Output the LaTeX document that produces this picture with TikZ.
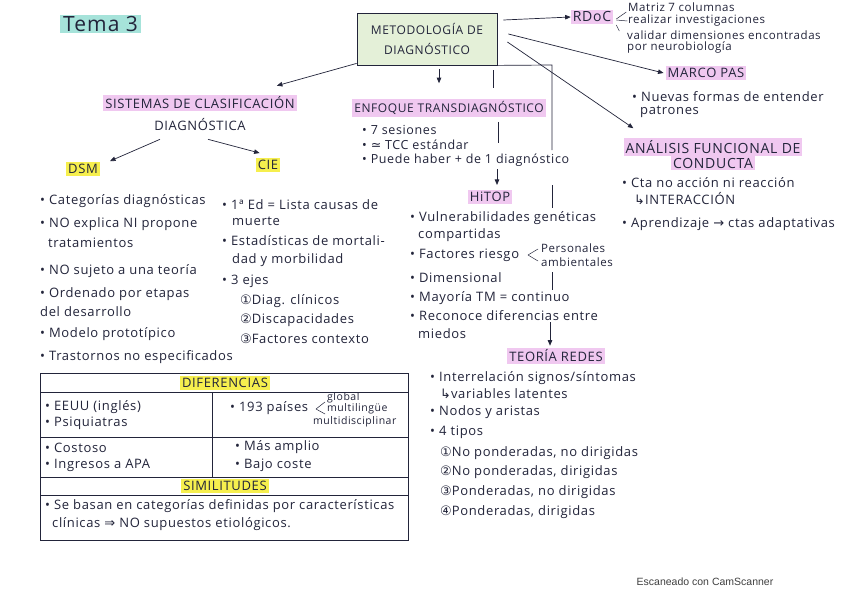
\documentclass[tikz,border=0pt]{standalone}
\usepackage{fontspec}
\setmainfont{Open Sans}[LetterSpace=5]
\newfontfamily\symfam{DejaVu Sans}
\newfontfamily\scanfam{Liberation Sans}
\newcommand{\dsy}[1]{{\symfam #1}}
\usetikzlibrary{arrows.meta}
\definecolor{ink}{HTML}{22243A}
\definecolor{pinkhl}{HTML}{F0C8F0}
\definecolor{yellowhl}{HTML}{F6EF4E}
\definecolor{tealhl}{HTML}{A6E3DA}
\definecolor{boxgreen}{HTML}{E4F0D8}
\begin{document}
\begin{tikzpicture}[x=1pt,y=-1pt,
  txt/.style={text=ink, inner sep=0pt, font=\fontsize{13}{15}\selectfont},
  item/.style={txt, anchor=west},
  smallitem/.style={txt, anchor=west, font=\fontsize{11.5}{13}\selectfont},
  tabitem/.style={txt, anchor=west, font=\fontsize{13}{15}\selectfont},
  ttl/.style={txt, font=\fontsize{13}{15}\selectfont, inner xsep=2pt, inner ysep=2pt},
  pinkttl/.style={ttl, fill=pinkhl},
  yelttl/.style={ttl, fill=yellowhl},
  arr/.style={draw=ink, line width=0.7pt, -{Triangle[length=5.5pt,width=4.5pt]}},
  ln/.style={draw=ink, line width=0.7pt},
]
\useasboundingbox (0,0) rectangle (848,599);
\fill[white] (0,0) rectangle (848,599);

% title
\node[txt, fill=tealhl, font=\fontsize{21}{24}\selectfont, anchor=west, inner xsep=3pt, inner ysep=1pt] (tema) at (60,24) {Tema 3};

% main box
\node[draw=ink, line width=0.8pt, fill=boxgreen, minimum width=140pt, minimum height=52pt,
      align=center, text=ink, font=\fontsize{12}{20}\selectfont] (meto) at (427,39) {METODOLOGÍA DE\\DIAGNÓSTICO};

% RDoC
\node[pinkttl, font=\fontsize{14}{16}\selectfont] (rdoc) at (592,17) {RDoC};
\draw[arr] ([xshift=6pt,yshift=19pt]meto.east) -- (rdoc.west);
\draw[ln, line width=0.5pt] ([xshift=3pt,yshift=-2pt]rdoc.east) -- ++(10,-7);
\draw[ln, line width=0.5pt] ([xshift=3pt,yshift=-3pt]rdoc.east) -- ++(11,1);
\draw[ln, line width=0.5pt] ([xshift=3pt,yshift=-8pt]rdoc.east) -- ++(3,6);
\node[smallitem] (r1) at (628,7) {Matriz 7 columnas};
\node[smallitem] (r2) at (628,21) {realizar investigaciones};
\node[smallitem] (r3) at (627,35) {validar dimensiones encontradas};
\node[smallitem] (r4) at (627,47) {por neurobiología};

% MARCO PAS
\node[pinkttl] (marco) at (706,73) {MARCO PAS};
\draw[arr] ([xshift=11pt,yshift=5pt]meto.east) -- ([xshift=-2pt]marco.west);
\node[item] (m1) at (632,97) {• Nuevas formas de entender};
\node[item] (m2) at (640,112) {patrones};

% ANALISIS FUNCIONAL
\node[pinkttl, font=\fontsize{14}{16}\selectfont] (anal1) at (713,147) {ANÁLISIS FUNCIONAL DE};
\node[pinkttl, font=\fontsize{14}{16}\selectfont] (anal2) at (713,163) {CONDUCTA};
\draw[arr] ([xshift=10pt,yshift=-3pt]meto.east) -- ([xshift=10pt,yshift=10pt]anal1.north west);
\node[item] (a1) at (622,183) {• Cta no acción ni reacción};
\node[item] (a2) at (634,199) {\dsy{↳}INTERACCIÓN};
\node[item] (a3) at (622,224) {• Aprendizaje \dsy{→} ctas adaptativas};

% SISTEMAS DE CLASIFICACION
\node[pinkttl] (sis1) at (200,103) {SISTEMAS DE CLASIFICACIÓN};
\node[ttl] (sis2) at (200,125) {DIAGNÓSTICA};
\draw[arr] ([yshift=2pt]meto.south west) -- ([xshift=-20pt,yshift=9pt]sis1.north east);

\node[yelttl] (dsm) at (83,169) {DSM};
\node[yelttl] (cie) at (268,165) {CIE};
\draw[arr] ([xshift=-40pt,yshift=-6pt]sis2.south) -- ([xshift=10pt,yshift=1pt]dsm.north east);
\draw[arr] ([xshift=8pt,yshift=-6pt]sis2.south) -- ([xshift=4pt,yshift=5pt]cie.north west);

% DSM items
\node[item] (d1) at (40,201) {• Categorías diagnósticas};
\node[item] (d2) at (40,224) {• NO explica NI propone};
\node[item] (d3) at (48,243) {tratamientos};
\node[item] (d4) at (40,271) {• NO sujeto a una teoría};
\node[item] (d5) at (40,294) {• Ordenado por etapas};
\node[item] (d6) at (40,312) {del desarrollo};
\node[item] (d7) at (40,334) {• Modelo prototípico};
\node[item] (d8) at (40,357) {• Trastornos no especificados};

% CIE items
\node[item] (c1) at (222,205) {• 1ª Ed = Lista causas de};
\node[item] (c2) at (232,221) {muerte};
\node[item] (c3) at (222,241) {• Estadísticas de mortali-};
\node[item] (c4) at (232,260) {dad y morbilidad};
\node[item] (c5) at (222,281) {• 3 ejes};
\node[item] (c6) at (240,301) {\dsy{①}Diag. clínicos};
\node[item] (c7) at (240,320) {\dsy{②}Discapacidades};
\node[item] (c8) at (240,339) {\dsy{③}Factores contexto};

% ENFOQUE TRANSDIAGNOSTICO
\node[pinkttl, font=\fontsize{12}{14}\selectfont] (enf) at (449,108) {ENFOQUE TRANSDIAGNÓSTICO};
\draw[arr] ([xshift=12pt,yshift=-4pt]meto.south) -- ([xshift=-10pt,yshift=16pt]enf.north);
\node[item, font=\fontsize{12.5}{14}\selectfont] (e1) at (362,130) {• 7 sesiones};
\node[item, font=\fontsize{12.5}{14}\selectfont] (e2) at (362,145) {• \dsy{≃} TCC estándar};
\node[item, font=\fontsize{12.5}{14}\selectfont] (e3) at (362,160) {• Puede haber + de 1 diagnóstico};

% HiTOP
\node[pinkttl] (hitop) at (490,197) {HiTOP};
\draw[ln] ([xshift=66pt,yshift=-5pt]meto.south) -- ++(0,18);
\coordinate (h1) at (498,122);
\coordinate (h2) at (498,143);
\draw[ln] (h1) -- (h2);
\coordinate (h3) at (497,169);
\draw[arr] (h3) -- ([xshift=7pt,yshift=5pt]hitop.north);
\node[item] (t1) at (410,218) {• Vulnerabilidades genéticas};
\node[item] (t2) at (418,235) {compartidas};
\node[item] (t3) at (410,255) {• Factores riesgo};
\coordinate (tb) at (528,255);
\draw[ln, line width=0.5pt] (tb) -- ++(10,-6);
\draw[ln, line width=0.5pt] (tb) -- ++(10,6);
\node[smallitem] (t3a) at (541,248) {Personales};
\node[smallitem] (t3b) at (541,262) {ambientales};
\node[item] (t4) at (410,278) {• Dimensional};
\node[item] (t5) at (410,298) {• Mayoría TM = continuo};
\node[item] (t6) at (410,316) {• Reconoce diferencias entre};
\node[item] (t7) at (418,334) {miedos};

% TEORIA REDES
\node[pinkttl] (redes) at (556,356) {TEORÍA REDES};
\coordinate (v1) at (552,65);
\coordinate (v2) at (552,150);
\draw[ln] (meto.south east) -- (v1) -- (v2);
\coordinate (v3) at (552,185);
\coordinate (v4) at (552,208);
\draw[ln] (v3) -- (v4);
\coordinate (v5) at (552,272);
\coordinate (v6) at (552,290);
\draw[ln] (v5) -- (v6);
\coordinate (v7) at (550,322);
\draw[arr] (v7) -- ([xshift=-6pt,yshift=2pt]redes.north);
\node[item] (n1) at (430,378) {• Interrelación signos/síntomas};
\node[item] (n2) at (440,394) {\dsy{↳}variables latentes};
\node[item] (n3) at (430,412) {• Nodos y aristas};
\node[item] (n4) at (430,432) {• 4 tipos};
\node[item] (n5) at (440,453) {\dsy{①}No ponderadas, no dirigidas};
\node[item] (n6) at (440,472) {\dsy{②}No ponderadas, dirigidas};
\node[item] (n7) at (440,492) {\dsy{③}Ponderadas, no dirigidas};
\node[item] (n8) at (440,512) {\dsy{④}Ponderadas, dirigidas};

% table
\draw[ink, line width=0.8pt] (40,373) rectangle (408,540);
\draw[ink, line width=0.7pt] (40,392) -- (408,392);
\draw[ink, line width=0.7pt] (40,437) -- (408,437);
\draw[ink, line width=0.7pt] (40,477) -- (408,477);
\draw[ink, line width=0.7pt] (40,495) -- (408,495);
\draw[ink, line width=0.7pt] (212,392) -- (212,477);
\node[yelttl] (dif) at (225,383) {DIFERENCIAS};
\node[yelttl] (sim) at (225,486) {SIMILITUDES};
\node[tabitem] (f1) at (45,407) {• EEUU (inglés)};
\node[tabitem] (f2) at (45,423) {• Psiquiatras};
\node[tabitem] (f3) at (230,408) {• 193 países};
\coordinate (fb) at (316,409);
\draw[ln, line width=0.5pt] (fb) -- ++(9,-7);
\draw[ln, line width=0.5pt] (fb) -- ++(9,5);
\node[smallitem, font=\fontsize{10.5}{12}\selectfont] (f3a) at (327,398) {global};
\node[smallitem, font=\fontsize{10.5}{12}\selectfont] (f3b) at (327,409) {multilingüe};
\node[smallitem, font=\fontsize{10.5}{12}\selectfont] (f3c) at (313,422) {multidisciplinar};
\node[tabitem] (f4) at (45,448) {• Costoso};
\node[tabitem] (f5) at (45,465) {• Ingresos a APA};
\node[tabitem] (f6) at (235,447) {• Más amplio};
\node[tabitem] (f7) at (235,465) {• Bajo coste};
\node[tabitem] (s1) at (45,506) {• Se basan en categorías definidas por características};
\node[tabitem] (s2) at (52,524) {clínicas \dsy{⇒} NO supuestos etiológicos.};

% scanner mark
\node[text=black!75, font=\scanfam\fontsize{10.5}{12}\selectfont, inner sep=0pt] (scan) at (705,582) {Escaneado con CamScanner};
\end{tikzpicture}
\end{document}
